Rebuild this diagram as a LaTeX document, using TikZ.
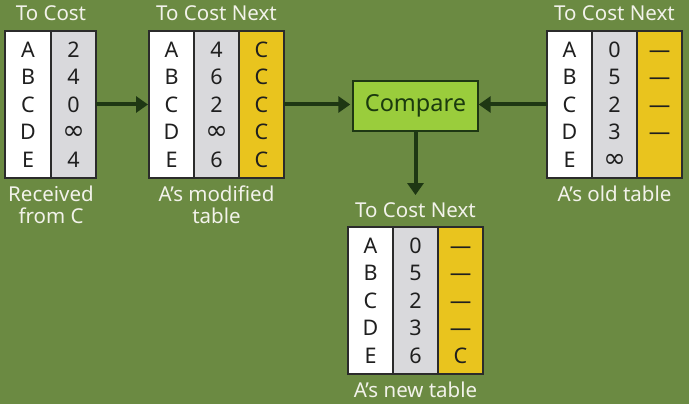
\documentclass[tikz,border=0pt]{standalone}
\usepackage{fontspec}
\setmainfont{Noto Sans}
\newfontfamily\infsym{DejaVu Sans}
\usepackage{xcolor}
\usepackage{tikz}
\usetikzlibrary{arrows.meta,positioning}
\definecolor{RipGreen}{HTML}{6B8A42}
\definecolor{RipEdge}{HTML}{2B2B2B}
\definecolor{RipGray}{HTML}{D9D9DC}
\definecolor{RipGold}{HTML}{E9C41E}
\definecolor{RipLime}{HTML}{9ACD3C}
\definecolor{RipDark}{HTML}{1E3713}
\definecolor{RipInk}{HTML}{1B3A0E}
\definecolor{RipText}{HTML}{F2F2EA}
\newcommand{\ripinf}{{\infsym\fontsize{27}{27.5}\selectfont ∞}}

\begin{document}
\begin{tikzpicture}[x=1pt,y=-1pt,
  col/.style={draw=RipEdge,line width=1.4pt,minimum width=45pt,minimum height=147pt,inner sep=0pt,outer sep=0pt,align=center,text=black!88,font=\fontsize{21.5}{27.5}\selectfont},
  keycol/.style={col,fill=white},
  costcol/.style={col,fill=RipGray},
  nextcol/.style={col,fill=RipGold},
  head/.style={inner sep=0pt,text=RipText,font=\fontsize{20.5}{22}\selectfont},
  tabcap/.style={inner sep=0pt,align=center,text=RipText,font=\fontsize{20.5}{22}\selectfont},
  arr/.style={-{Triangle[length=12pt,width=16pt]},line width=4pt,RipDark}]
\fill[RipGreen] (0,0) rectangle (689,404);
\useasboundingbox (0,0) rectangle (689,404);
% received from C
\node[keycol,anchor=north west,minimum width=46pt] (recK) at (5,31) {\vphantom{A}A\\B\\C\\D\\E};
\node[costcol,right=0pt of recK] (recC) {\vphantom{A}2\\4\\0\\\ripinf\\4};
\node[head,above=10pt of recK.north east] (recH) {To Cost};
\node[tabcap,below=8pt of recK.south east] (recL) {Received\\from C};
% A's modified table
\node[keycol,anchor=north west] (modK) at (149,31) {\vphantom{A}A\\B\\C\\D\\E};
\node[costcol,right=0pt of modK] (modC) {\vphantom{A}4\\6\\2\\\ripinf\\6};
\node[nextcol,right=0pt of modC] (modN) {\vphantom{A}C\\C\\C\\C\\C};
\node[head,above=10pt of modC.north] (modH) {To Cost Next};
\node[tabcap,below=8pt of modC.south] (modL) {A’s modified\\table};
% A's old table
\node[keycol,anchor=north west] (oldK) at (547,31) {\vphantom{A}A\\B\\C\\D\\E};
\node[costcol,right=0pt of oldK] (oldC) {\vphantom{A}0\\5\\2\\3\\\ripinf};
\node[nextcol,right=0pt of oldC] (oldN) {\vphantom{A}—\\—\\—\\—\\\vphantom{A}};
\node[head,above=10pt of oldC.north] (oldH) {To Cost Next};
\node[tabcap,below=8pt of oldC.south] (oldL) {A’s old table};
% compare step
\node[draw=RipDark,line width=1.4pt,fill=RipLime,minimum width=125pt,minimum height=50pt,text=RipInk,font=\fontsize{23.5}{24}\selectfont] (cmp) at (415.5,106) {Compare};
% A's new table
\node[keycol,anchor=north west] (newK) at (348,227) {\vphantom{A}A\\B\\C\\D\\E};
\node[costcol,right=0pt of newK] (newC) {\vphantom{A}0\\5\\2\\3\\6};
\node[nextcol,right=0pt of newC] (newN) {\vphantom{A}—\\—\\—\\—\\C};
\node[head,above=9.5pt of newC.north] (newH) {To Cost Next};
\node[tabcap,below=8pt of newC.south] (newL) {A’s new table};
\draw[arr,shorten >=1pt] (recC.east) -- (modK.west);
\draw[arr,shorten >=2pt] (modN.east) -- (modN.east -| cmp.west);
\draw[arr] (oldK.west) -- (oldK.west -| cmp.east);
\draw[arr,shorten >=7pt] (cmp.south) -- (newH.north);
\end{tikzpicture}
\end{document}
